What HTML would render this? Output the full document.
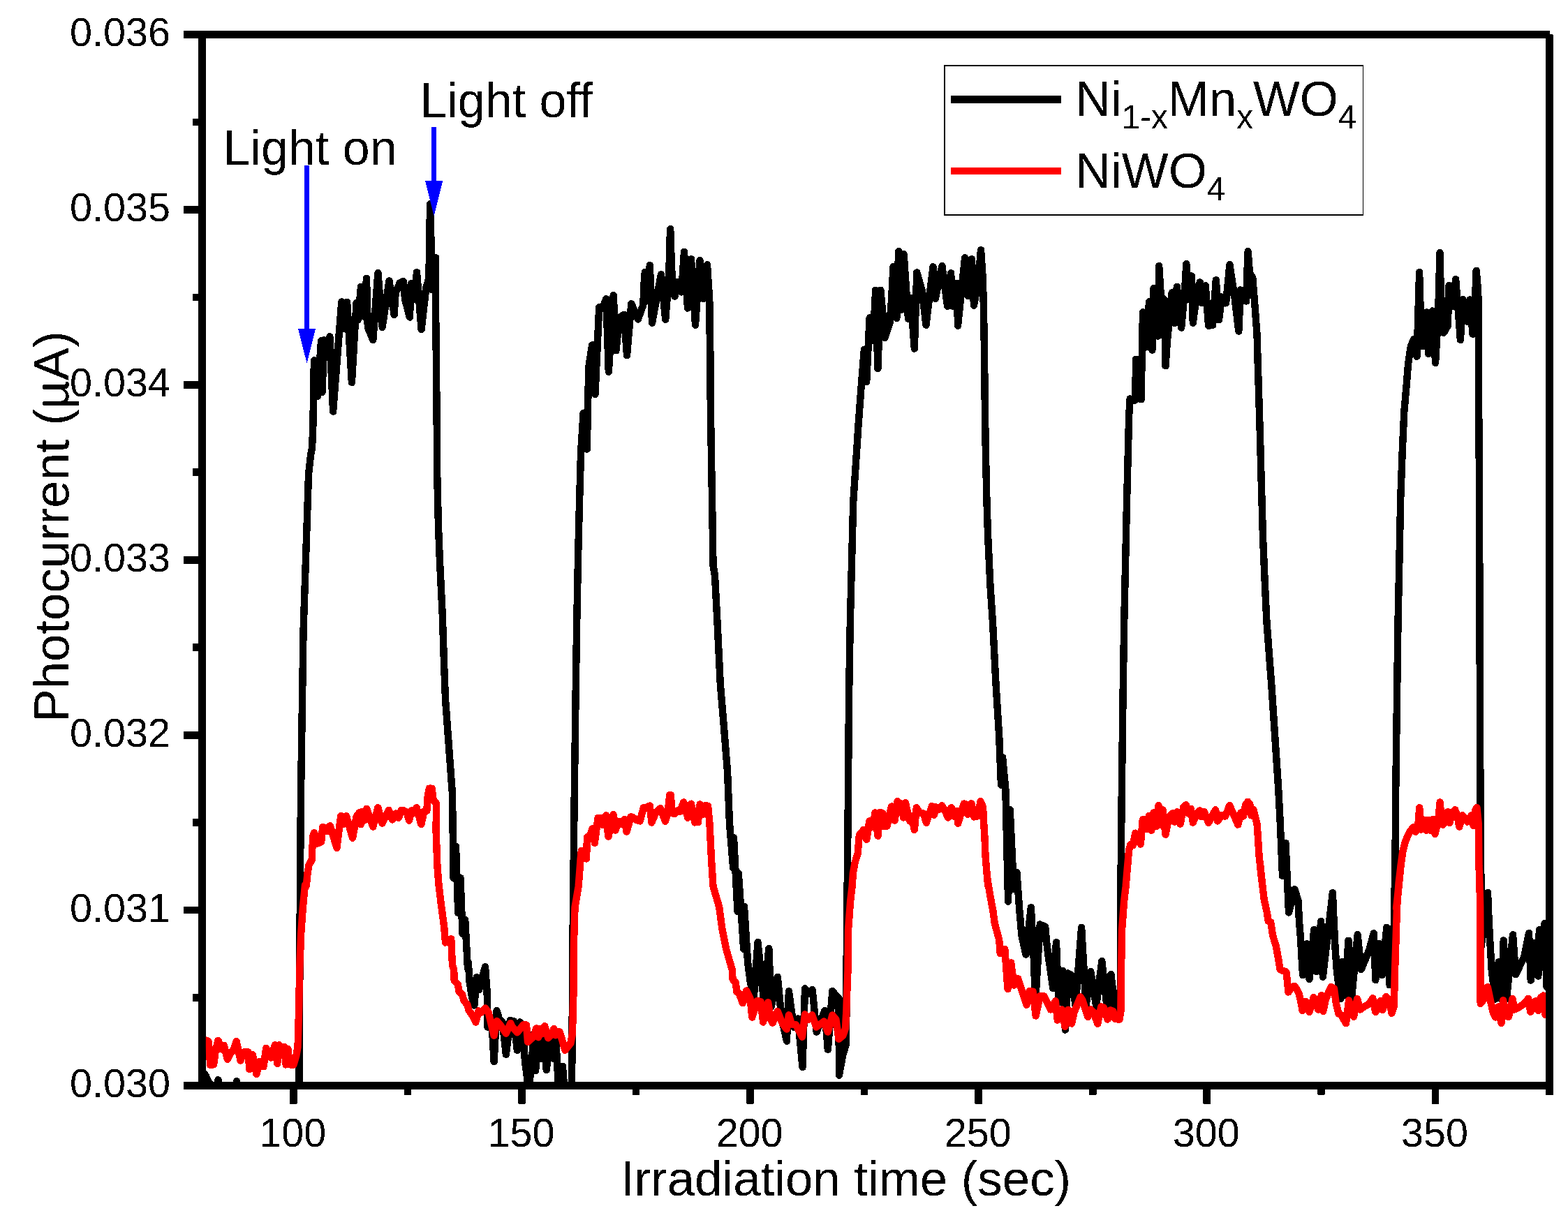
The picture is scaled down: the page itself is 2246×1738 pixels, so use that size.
<!DOCTYPE html>
<html lang="en">
<head>
<meta charset="utf-8">
<title>Photocurrent vs Irradiation time</title>
<style>
html,body{margin:0;padding:0;background:#fff;}
body{width:2246px;height:1738px;overflow:hidden;}
svg{display:block;}
text{font-family:"Liberation Sans",Arial,Helvetica,sans-serif;fill:#000;}
.tick{font-size:57.5px;}
.big{font-size:70.8px;}
.ann{font-size:70px;}
.sub{font-size:47.5px;}
</style>
</head>
<body>
<svg xmlns="http://www.w3.org/2000/svg" width="2246" height="1738" viewBox="0 0 2246 1738">
<rect x="0" y="0" width="2246" height="1738" fill="#ffffff"/>
<defs><clipPath id="plot"><rect x="289" y="49" width="1931" height="1507"/></clipPath><filter id="crisp" x="0" y="0" width="2246" height="1738" filterUnits="userSpaceOnUse" color-interpolation-filters="sRGB"><feComponentTransfer><feFuncA type="discrete" tableValues="0 1"/></feComponentTransfer></filter></defs>
<g filter="url(#crisp)">
<g clip-path="url(#plot)" fill="none" stroke-linejoin="round" stroke-linecap="round">
<polyline stroke="#000000" stroke-width="10.4" points="288,1532 295,1542 299,1551 304,1556 308,1566 312.5,1547.3 317,1566 334.5,1566 339,1549.2 343.5,1566 380,1570 420,1570 428.5,1570 429,1450 430,1250 431,1138 433,1002 434.5,905 437,830 439.5,755 442,680 445,652 447,642 448.3,612 449.9,516.5 454.7,567.8 460,488.3 461.6,561.8 464,487.3 468,511.4 472.4,482.3 477.1,589.5 489.3,432.4 493.2,470.5 497.1,432.7 503.9,547.9 510.5,434.2 512.6,458.6 517,411 521.2,453.5 525,398.8 526.8,468.9 534.3,487.1 541.4,391.1 547.6,468.7 557.5,402.4 564.6,450.8 566.7,419 573,405 577.7,403.2 580.1,428.8 586.9,454.6 589,406.2 593.2,428.8 597,390.1 603.6,471.9 610.5,411 614.4,399 615.4,327.6 616.2,292.5 617.9,363.3 617.6,414.5 624.2,369.3 623.9,422.9 624.5,481 625.5,580 626.2,680 628,755 630,805 633.7,880 636.2,955 638,1002 648,1138 649.5,1258 653,1213 656.2,1308 659.5,1258 662.5,1338 666.2,1318 670,1388 670.9,1379.9 672.4,1405.1 675.9,1428.3 679.4,1440.4 683,1400.1 686,1418.2 695,1385.3 697.6,1420.2 698.1,1450.4 698.4,1471.6 704.6,1466.6 707.6,1521 711.5,1448.2 715.2,1460.5 719.7,1464.5 724.8,1510.9 730.8,1462 735.8,1463 740.9,1504.8 744.9,1464.5 748.4,1470.6 752,1521 757.5,1563.3 765.1,1480.7 767.1,1534.1 771.1,1490.7 775.1,1516.9 779.2,1490.7 782.7,1533 787.2,1490.7 793.3,1516.9 796.3,1490.7 800.3,1563.3 805.9,1528 808.6,1563.3 819,1563.3 819.5,1500.8 820,1390 822.6,1150 824.5,1002 826.2,892 828,800 830,720 832,650 835.6,591.7 840.7,643.5 843.3,526.2 848.1,494.4 852.5,564.8 858.2,440.2 863,441.7 868.3,428.3 871.8,532.7 878.7,423.2 882.5,502.3 887.1,455.4 893.9,450.6 898,509.3 904.3,435.1 913.8,457.4 921.3,436.9 923.1,395.2 924,389.9 926.1,430.4 930.8,380.1 934,462.7 946.9,393.2 953.2,457.7 958.2,395.2 959.8,335.7 960.2,328 961.2,359.5 962.6,395.2 966.5,424.6 970.1,404.2 976.1,418.5 980,360.8 985,441.5 990,371.2 996,465.7 1002.5,373.2 1007.6,428 1013,379.2 1016.3,431 1016.7,478.6 1017.3,501 1017.5,560 1018.8,645 1020.5,745 1021.5,810 1024,825 1027.5,892 1031.8,980 1037,1042.5 1042,1105 1045,1180 1050.2,1243.5 1051,1200.2 1056.5,1306 1057.8,1251.5 1065.2,1359.8 1066,1299 1071.2,1380 1074.5,1405.1 1079.5,1433.3 1085.5,1350 1094.2,1435.3 1101.3,1359 1104.7,1442.4 1109.2,1420.2 1113.8,1399.9 1116.8,1430.3 1118.8,1454.5 1126.9,1491.7 1129.9,1420.2 1136.9,1471.6 1143,1459.5 1149.5,1529 1153,1416.2 1158.1,1423.2 1163.6,1418.2 1169.7,1478.6 1181.3,1448.2 1185.8,1503.8 1192.3,1420 1196.4,1425.3 1201.4,1429.8 1201.9,1540.6 1207.4,1510.9 1211.8,1496.8 1212.3,1450.4 1212.5,1390 1214.8,1150 1216,1000 1217.8,892 1222.2,720 1228.8,620 1228.7,620 1233.3,558.1 1237.9,500.7 1241.2,547.3 1245.6,455.5 1250.6,487.3 1254.2,415.6 1257.4,528.3 1261.3,415.6 1267.6,483.7 1274.4,462.9 1276.8,433.1 1279.5,381.9 1284.3,456 1287.1,360.2 1291.9,443.5 1294.6,364.4 1301,456.8 1304.5,427.1 1309.8,499.6 1313.3,390.4 1320.8,417 1326.4,465.8 1336.5,382.3 1339.9,427.7 1349.4,381.1 1357.1,438.7 1362.1,391.2 1364.9,438.5 1370.5,405.8 1372,466.7 1382.1,369.4 1386.9,424.2 1391.9,371.3 1395,437.7 1401.2,403.3 1405,358.2 1407.7,397.4 1408.9,439 1409.5,474.8 1410.2,521 1410.5,560 1411.8,645 1413.5,720 1415.2,770 1418.5,840 1422,892 1426.5,980 1431.2,1055 1434,1124.8 1436.1,1085.2 1440.3,1130.1 1444.1,1291.7 1446.7,1160.3 1450,1230 1452.2,1273.6 1456.4,1249.9 1460.4,1305.3 1463.5,1340.6 1469.5,1367.6 1476.8,1300.1 1480.6,1370.8 1483.1,1435.3 1489.7,1324.5 1497.2,1327.7 1499.2,1350.7 1501.7,1370.8 1504.8,1391 1508.3,1416.1 1513,1350.2 1516.3,1436.3 1522.4,1391.2 1525.9,1475.6 1529.9,1394.5 1535,1397.5 1540.5,1441.3 1549.1,1329 1555.6,1441.3 1562.2,1392.2 1570.2,1441.3 1578.3,1377.1 1585.4,1441.3 1591.4,1396 1597.4,1447.4 1604.8,1431.3 1605,1360.7 1605.5,1260 1606.6,1150 1608.5,1000 1610.2,892 1614,720 1617.2,595 1618.7,571.5 1626.2,573.5 1627.1,514.8 1634.5,572.3 1637,447.5 1642.1,497.4 1646,432.3 1650.4,501.5 1652.5,413.2 1658.8,481.5 1660.2,381.1 1662.9,424.8 1668,430.1 1669.5,524.3 1672.1,486.7 1678.7,419.4 1682.6,462.7 1685.8,410.6 1692.1,469.6 1697.1,415.2 1699.3,378.1 1703.1,428.6 1706.7,395.4 1708.8,462.7 1715,415.2 1718.8,404.3 1721,433.7 1726.7,409.4 1731.1,466.7 1737,465.8 1741.8,401.1 1746,458.3 1750.1,425.4 1756.1,434.3 1761.4,379.3 1768.6,427.1 1774.3,474.6 1776.9,415.4 1780.5,421.2 1785.2,431.5 1786.4,391.4 1787.6,360.2 1790,391.4 1794.2,397.4 1797.1,433.1 1799.3,462.9 1800.5,478.3 1801.1,498.6 1801.7,521 1802.5,545 1804.8,620 1807,700 1809,770 1812,840 1814.5,892 1821.2,980 1826.2,1055 1831.2,1130 1833.8,1180 1837,1255 1841.5,1208 1846,1307.5 1854.5,1274.3 1859.5,1290.4 1861,1320.6 1862.7,1340.7 1864,1360.9 1865,1381 1866.1,1397.1 1872.1,1352.3 1875.6,1403 1882.2,1331.9 1885.2,1392.1 1892.2,1320.1 1894.8,1399.7 1908.9,1279.1 1910.4,1315.6 1912.7,1360.9 1914.9,1391.1 1919.9,1431.4 1923,1378 1926,1426.4 1931.5,1347.6 1936.1,1429.4 1944.6,1339.2 1949.7,1389.1 1961.3,1360.9 1967.8,1337.2 1970.3,1404.2 1975.4,1351.8 1979.4,1397.1 1986.4,1328.8 1990.5,1411.3 1996.3,1381 1996.7,1326.6 1997.5,1280.3 1998.5,1240 1999,1150 2001,1000 2002.5,892 2006.3,712 2008.8,645 2011.3,590 2014.9,548.7 2017.1,521 2020.8,496.2 2025,486.1 2029.5,510.7 2031,462.9 2033.1,390 2034.5,439 2036.9,496.2 2043.5,447.5 2046.1,506.8 2051.8,445.4 2056.1,519.8 2060.1,451 2061.7,391.4 2062.5,362 2063.3,397.4 2063.9,422.4 2067.9,476.8 2073.8,466.7 2075.6,409 2081,438.7 2085.1,400.1 2088.7,445 2091.9,486.9 2095.5,429.3 2101.4,460.4 2105.7,429.3 2109.5,478.6 2113.1,427.1 2114.6,388 2116.1,403.3 2117.5,427.1 2117.9,462.9 2118,521 2118.3,600 2119.1,712 2119.5,900 2120.5,1150 2121.2,1225 2121.7,1355.9 2131,1279.2 2132.3,1310.6 2133.8,1340.8 2135.3,1366 2136.8,1391.2 2141.8,1431.5 2146.9,1378.1 2150.4,1431.5 2153.7,1347.4 2158,1431.5 2167,1339.3 2171.1,1396.2 2183.1,1371 2190,1337 2192.7,1404.6 2197.8,1351.4 2203.3,1398.5 2204.8,1332.2 2208.3,1386.1 2212.4,1323.2 2215.2,1381.1 2215.6,1414.3 2219.5,1401.3"/>
<polyline stroke="#ff0000" stroke-width="10.4" points="290.5,1491.3 295.1,1490.4 298.7,1492.2 301.3,1526.1 306.1,1525.2 309,1504.1 312.5,1490.8 316.6,1503.2 320.7,1497.7 325.8,1517.8 330.8,1508.2 334.5,1504.1 338.6,1491.9 344.5,1519.7 349.1,1507.5 355.5,1507.5 357.3,1532 361.9,1511.4 367.4,1538.9 372,1521 377.5,1528.4 381.2,1501.8 384.8,1509.6 388,1515.5 394,1497.1 397.2,1523.8 399.9,1497.1 404,1504.1 407.3,1500 409.5,1525.4 412.3,1502.7 415,1525.4 420.5,1525.6 424.2,1513.3 426.5,1500.4 427.4,1471.1 428.3,1440 429.2,1388 431.2,1338 433.8,1300.5 437,1268 438.6,1270 440.6,1251.1 442.6,1239 446.6,1232.5 447.3,1215.8 448.6,1196.7 450.1,1193.2 454.7,1208.6 460.2,1206.1 462.2,1185.1 465.8,1186.1 468.8,1191.2 472.8,1183.1 482.4,1214.8 488.2,1169 492.5,1180.6 496,1169 505,1200.7 510.6,1170 514.6,1164.5 516.8,1181.2 518.8,1163 521.9,1175.4 525.2,1158.9 534.3,1184.6 541.3,1157.2 547.4,1179.6 556.9,1160.9 562,1174.5 567,1165.5 571,1171.7 574.6,1160.9 578.6,1161.4 582.6,1164 586.1,1175.6 589.7,1161.2 593.2,1164.5 596.7,1157.2 603.3,1181.1 607.5,1162.5 611.3,1161.7 612.5,1142.3 614.8,1129.7 618.6,1129.7 620.9,1147.3 624.9,1150.9 624.6,1190.7 626.4,1241 628.7,1270 632.5,1300.5 636.2,1328 638,1350.5 646.2,1345 647,1363 648,1383 650.2,1390 650.7,1405.1 655.8,1410.1 657.3,1420.2 662.3,1425.3 664.3,1433.3 669.4,1439.4 671.4,1447.4 676.4,1454.5 681.4,1464.5 685.5,1448.4 689.5,1450.4 695,1444.4 699.6,1450.4 707.6,1483.7 711.7,1463 716.7,1468.6 724.8,1480.7 731.3,1466.1 733.3,1470.6 740.9,1479.2 749.9,1468.1 754,1468.6 756,1492.8 764.1,1485.7 768.1,1473.4 771.1,1486.2 773.6,1473.6 776.1,1481.2 780.2,1470.1 785.2,1487.2 791.3,1480.7 793.3,1474.1 795.8,1483.2 801.3,1478.1 805.4,1490.7 809.4,1504.8 817.4,1494.8 820,1480.7 820.7,1450.4 821.5,1420.2 821.5,1390 822,1350 823.5,1300 828.6,1270 830.1,1251.1 831.6,1231 832.9,1218.7 840,1230.5 841,1199.2 844.2,1200.7 848.7,1187.1 851.8,1207.8 856.5,1172 859.3,1171.7 863.4,1182.1 867.9,1168.3 871.4,1198.7 878.5,1167 881.5,1189.7 886,1176.6 890,1181.1 894.6,1174 897.6,1191.7 903.6,1170.3 907.2,1171.5 911.7,1175 916.7,1176.4 921.8,1157.4 925.8,1156.9 930.8,1154.4 933.4,1178.6 938.9,1165.5 946,1158.2 953,1176.8 956.5,1164.5 959.3,1139.3 961.1,1139.3 961.9,1164.5 966.1,1166 970.1,1161.4 974.2,1162.5 979.2,1149.4 985.2,1171.7 989.8,1151.6 995.3,1178.4 999.8,1178.1 1002.6,1152.4 1006.4,1167 1009.9,1154.4 1014,1154.6 1016.5,1180.6 1017.5,1200.7 1019,1231 1021.5,1270 1030.1,1299.3 1034.2,1329.6 1040.2,1359.8 1048.8,1390 1049.5,1403.1 1053.8,1408.1 1055.3,1421.2 1058.4,1423.2 1063.9,1437.1 1069.2,1419.4 1074.5,1430.3 1077.3,1457.5 1084.5,1434.1 1089.6,1435.3 1093.1,1464.5 1100.2,1436.3 1104.2,1460.5 1106.7,1465.6 1113.8,1449.2 1118.3,1460.5 1120.8,1466.6 1126.9,1474.6 1129.9,1454.3 1133.9,1467.6 1139.9,1468.1 1149,1485.7 1153,1453.3 1158.1,1460.5 1163.1,1454.3 1169.2,1471.6 1176.2,1466.6 1180.2,1463.5 1185.8,1478.6 1192.3,1454.5 1197.4,1460.5 1201.4,1488.7 1207.4,1483.7 1211,1473.6 1212.3,1450.4 1213.3,1420.2 1214.5,1390 1215.1,1331.7 1218.1,1291.4 1220.6,1270 1221.9,1251.1 1224.6,1236 1228.7,1222.9 1230.4,1200.7 1231,1196.2 1237.2,1188.8 1241.3,1202.8 1245.3,1176.4 1248.3,1175.6 1250.3,1185.1 1253.4,1164.5 1257.4,1197.7 1260.6,1164 1264.4,1165.3 1266.7,1184.1 1270.5,1183.6 1277,1155.4 1281.6,1175.6 1285.6,1148.2 1290.6,1152.4 1294.2,1171.5 1296.9,1150.2 1303.2,1176.6 1305.7,1169.5 1309.8,1188.8 1312.8,1157.2 1317.3,1164.5 1322.9,1165.5 1326.9,1178.8 1334.9,1154.9 1338,1167.7 1340.5,1156.4 1344.5,1160.4 1349.1,1154.2 1353.1,1160.4 1358.1,1171.5 1362.7,1157.2 1366.2,1169.5 1370.2,1161.7 1372.2,1179.8 1380.8,1151.4 1383.8,1152.4 1386.3,1166.7 1391.4,1151.2 1395.4,1170.5 1400.4,1169.5 1404.5,1148.2 1408,1156.4 1409.3,1180.6 1410.5,1200.7 1411.5,1225.9 1413.5,1251.1 1415.5,1270 1414.3,1260 1418.6,1285.2 1422.4,1305.3 1424.7,1322.5 1431.2,1346.6 1432.7,1365.8 1439.3,1359.7 1443.5,1417.1 1448.2,1379.4 1452.4,1411.6 1458.2,1402.2 1470.5,1439.9 1475,1420.2 1479.6,1420.7 1483.6,1455.5 1489.7,1427.3 1495.7,1427.5 1504.8,1446.4 1511.8,1434.3 1514.8,1461.7 1520.9,1446.4 1525.4,1470.8 1529.9,1446.9 1535,1466.6 1538.5,1450.4 1547.6,1428.5 1550.6,1433.3 1558.2,1457 1562.2,1446.4 1566.2,1450.4 1572.3,1466.8 1577.3,1442.4 1580.8,1443.4 1586.4,1460.5 1590.4,1447.4 1594.4,1448.9 1597.4,1460 1603.5,1460.5 1605.3,1450.4 1605.7,1420.2 1606,1390 1607.1,1331.7 1610.1,1291.4 1612.6,1270 1614.6,1246.1 1616,1231 1617,1218.9 1619.2,1210.3 1622.7,1211.3 1626.2,1193.7 1629.8,1200.7 1633.8,1209.6 1636.8,1174.5 1640.3,1174.7 1643.4,1187.8 1645.9,1169 1649.4,1189.7 1652.4,1164.5 1655.9,1184.1 1659.5,1154.2 1661.5,1182.1 1665.5,1160.4 1669.5,1195.7 1674.6,1170.5 1679.6,1165.3 1682.6,1177.6 1686.2,1163.3 1690.7,1180.6 1695.2,1156.4 1698.8,1153.2 1702.3,1165.5 1705.8,1158.9 1708.8,1178.6 1713.9,1166.5 1718.4,1161.4 1720.9,1170 1724.9,1163 1731,1178.8 1735.5,1170.5 1741.1,1160.2 1744.1,1176.4 1750.1,1167.7 1755.2,1169.5 1761.2,1154.2 1766.3,1165.5 1773.3,1181.6 1777.3,1164.5 1780.9,1169.5 1784.4,1152.4 1787.4,1148.6 1790.4,1152.4 1792.4,1168.5 1795.5,1159.9 1800.5,1180.6 1802,1200.7 1803.5,1225.9 1806,1249.1 1808.4,1270 1805.3,1240 1807.9,1265.2 1810.7,1288.4 1814.7,1307 1816.7,1319.6 1820.2,1321.4 1823.2,1340.7 1827.8,1355.8 1831.5,1376 1833.5,1389.1 1842.4,1392.6 1843.9,1405.2 1845.4,1421.4 1849.4,1415.2 1854.5,1412.7 1860.5,1423.2 1864,1438.4 1865.6,1447.9 1870.6,1435.1 1875.6,1449.9 1881.7,1429.1 1885.2,1438.4 1888.2,1446.6 1892.8,1426.1 1895.3,1448.9 1898.3,1434.3 1902.8,1422.2 1906.9,1414 1910.9,1416.2 1913.9,1438.4 1917.4,1452.5 1921,1454.5 1928,1466.1 1932,1433.3 1935.6,1450.4 1939.1,1456.7 1944.1,1431.1 1948.2,1446.4 1954.2,1442.2 1961.3,1438.4 1966.3,1430.3 1970.3,1449.9 1973.8,1437.3 1977.4,1434.3 1980.4,1447.2 1985.4,1428.1 1990,1432.3 1993.5,1451.7 1996.5,1442.4 1997.3,1420.2 1997.7,1400.1 1998.7,1371 1999.7,1340.7 2001,1300.4 2003.6,1265.2 2006.6,1240 2000.1,1301.5 2003.6,1270 2006.4,1241 2009.2,1220.9 2012.4,1207.8 2015.7,1199.2 2019.8,1190.7 2024.8,1185.1 2027.8,1191.7 2030.8,1188.6 2033.2,1157.2 2035.9,1188.6 2039.4,1174.5 2042.9,1189.7 2046.4,1174.7 2049.5,1189.9 2052.7,1174 2055.5,1194.9 2060,1176.6 2062.6,1149.4 2065.1,1176.6 2066.8,1181.8 2070.6,1165.5 2074.2,1163.3 2076.2,1179.1 2080.7,1164.5 2084.2,1160.2 2087.8,1170.5 2090.3,1184.6 2094.8,1168.3 2098.8,1172.5 2101.9,1177.6 2107.4,1168.5 2110.4,1182.6 2113.4,1160.4 2115.5,1157.2 2117.8,1180.6 2118.5,1241 2119.5,1270 2120.2,1299.3 2120.7,1385 2120.7,1437.8 2125.2,1432.3 2130.8,1414.2 2135.3,1435.3 2138.3,1449.4 2141.8,1457.5 2145.9,1442.4 2150.4,1465.8 2153.1,1433.1 2157,1454.5 2161,1457 2166.5,1431.1 2169.5,1446.4 2177.1,1442.4 2183.1,1438.4 2189.2,1430.8 2192.2,1449.9 2197.3,1436.3 2200.8,1433.8 2203.3,1447.9 2207.3,1428.8 2210.8,1426.5 2213.4,1454 2217.4,1435.3 2222.4,1440.4"/>
</g>
<g fill="#0000ff" stroke="none">
<rect x="436.3" y="236.8" width="6.6" height="236"/>
<polygon points="426.9,471 452.1,471 439.6,520.5"/>
<rect x="618.2" y="182" width="6.6" height="78"/>
<polygon points="609,259 634.2,259 621.6,309.5"/>
</g>
<g fill="#000000" stroke="none">
<rect x="284.2" y="44" width="10.6" height="1516"/>
<rect x="263" y="1550" width="1957" height="10.5"/>
<rect x="263" y="44" width="1957" height="11"/>
<rect x="2214.2" y="49.5" width="10.6" height="1519"/>
<rect x="263" y="1549.7" width="24" height="10.6"/>
<rect x="263" y="1298.8" width="24" height="10.6"/>
<rect x="263" y="1047.9" width="24" height="10.6"/>
<rect x="263" y="796.9" width="24" height="10.6"/>
<rect x="263" y="546.0" width="24" height="10.6"/>
<rect x="263" y="295.1" width="24" height="10.6"/>
<rect x="263" y="44.2" width="24" height="10.6"/>
<rect x="276" y="1424.2" width="10" height="10.6"/>
<rect x="276" y="1173.3" width="10" height="10.6"/>
<rect x="276" y="922.4" width="10" height="10.6"/>
<rect x="276" y="671.5" width="10" height="10.6"/>
<rect x="276" y="420.6" width="10" height="10.6"/>
<rect x="276" y="169.7" width="10" height="10.6"/>
<rect x="415.0" y="1555" width="10.6" height="26.5"/>
<rect x="742.2" y="1555" width="10.6" height="26.5"/>
<rect x="1069.3" y="1555" width="10.6" height="26.5"/>
<rect x="1396.4" y="1555" width="10.6" height="26.5"/>
<rect x="1723.5" y="1555" width="10.6" height="26.5"/>
<rect x="2050.6" y="1555" width="10.6" height="26.5"/>
<rect x="578.6" y="1555" width="10.6" height="13.5"/>
<rect x="905.7" y="1555" width="10.6" height="13.5"/>
<rect x="1232.8" y="1555" width="10.6" height="13.5"/>
<rect x="1560.0" y="1555" width="10.6" height="13.5"/>
<rect x="1887.1" y="1555" width="10.6" height="13.5"/>
<rect x="2214.2" y="1555" width="10.6" height="13.5"/>
</g>
<g class="tick">
<text x="244" y="1571.6" text-anchor="end">0.030</text>
<text x="244" y="1320.7" text-anchor="end">0.031</text>
<text x="244" y="1069.8" text-anchor="end">0.032</text>
<text x="244" y="818.8" text-anchor="end">0.033</text>
<text x="244" y="567.9" text-anchor="end">0.034</text>
<text x="244" y="317.0" text-anchor="end">0.035</text>
<text x="244" y="66.1" text-anchor="end">0.036</text>
<text x="419.3" y="1643.4" text-anchor="middle">100</text>
<text x="746.5" y="1643.4" text-anchor="middle">150</text>
<text x="1073.6" y="1643.4" text-anchor="middle">200</text>
<text x="1400.7" y="1643.4" text-anchor="middle">250</text>
<text x="1727.8" y="1643.4" text-anchor="middle">300</text>
<text x="2054.9" y="1643.4" text-anchor="middle">350</text>
</g>
<text class="big" x="1211.5" y="1713" text-anchor="middle">Irradiation time (sec)</text>
<text class="big" transform="translate(98.4,754.5) rotate(-90)" text-anchor="middle">Photocurrent (µA)</text>
<text class="ann" x="319.5" y="236.4">Light on</text>
<text class="ann" x="601.3" y="168.2">Light off</text>
<rect x="1353" y="94" width="599.5" height="214" fill="none" stroke="#000000" stroke-width="1.8"/>
<rect x="1362" y="136.6" width="158" height="11.2" fill="#000000"/>
<rect x="1362" y="240.3" width="158" height="9.8" fill="#ff0000"/>
<text class="big" x="1540" y="166">Ni<tspan class="sub" dy="18">1-x</tspan><tspan dy="-18">Mn</tspan><tspan class="sub" dy="18">x</tspan><tspan dy="-18">WO</tspan><tspan class="sub" dy="18">4</tspan></text>
<text class="big" x="1540" y="268.6">NiWO<tspan class="sub" dy="18">4</tspan></text>
</g>
</svg>
</body>
</html>
